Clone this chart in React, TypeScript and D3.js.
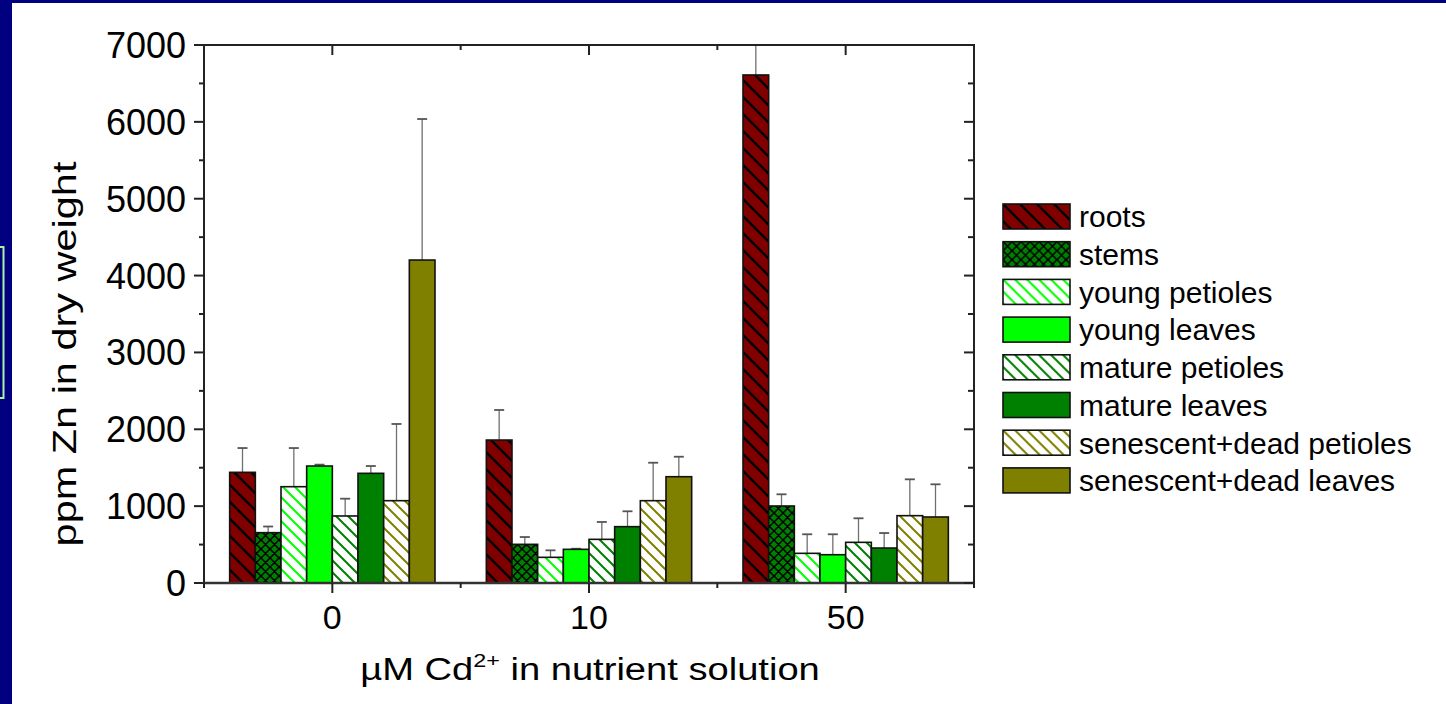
import React, { useEffect, useRef } from "react";
import * as d3 from "d3";

// Cd treatment groups (x categories)
const groups = ["0", "10", "50"];

// plant parts, in drawing order
const seriesNames = [
  "roots",
  "stems",
  "young petioles",
  "young leaves",
  "mature petioles",
  "mature leaves",
  "senescent+dead petioles",
  "senescent+dead leaves",
];

// mean ppm Zn per group (0, 10, 50 µM Cd)
const roots = [1440, 1860, 6610];
const stems = [655, 503, 1002];
const youngPetioles = [1253, 334, 386];
const youngLeaves = [1522, 438, 368];
const maturePetioles = [872, 568, 529];
const matureLeaves = [1427, 733, 455];
const senPetioles = [1071, 1071, 876];
const senLeaves = [4202, 1383, 859];

// upper error (SD) per group
const rootsErr = [316, 391, 800];
const stemsErr = [80, 95, 152];
const youngPetiolesErr = [503, 91, 248];
const youngLeavesErr = [18, 8, 266];
const maturePetiolesErr = [225, 226, 313];
const matureLeavesErr = [95, 200, 195];
const senPetiolesErr = [998, 494, 473];
const senLeavesErr = [1835, 260, 425];

const yTicks = [0, 1000, 2000, 3000, 4000, 5000, 6000, 7000];

const seriesValues = [roots, stems, youngPetioles, youngLeaves, maturePetioles, matureLeaves, senPetioles, senLeaves];
const seriesErrors = [rootsErr, stemsErr, youngPetiolesErr, youngLeavesErr, maturePetiolesErr, matureLeavesErr, senPetiolesErr, senLeavesErr];

// fill style for each series: base colour, optional hatch
const seriesStyles = [
  { fill: "#800000", hatch: "back", line: "#000000", size: 17, lw: 2.4 },
  { fill: "#008000", hatch: "cross", line: "#000000", size: 9, lw: 1.5 },
  { fill: "#ffffff", hatch: "back", line: "#00ff00", size: 12, lw: 2 },
  { fill: "#00ff00", hatch: null, line: null, size: 0, lw: 0 },
  { fill: "#ffffff", hatch: "back", line: "#008000", size: 12, lw: 2 },
  { fill: "#008000", hatch: null, line: null, size: 0, lw: 0 },
  { fill: "#ffffff", hatch: "back", line: "#808000", size: 12, lw: 2 },
  { fill: "#808000", hatch: null, line: null, size: 0, lw: 0 },
];

const FONT = "Arial, 'Liberation Sans', sans-serif";

const App = () => {
  const ref = useRef<SVGSVGElement | null>(null);

  useEffect(() => {
    if (ref.current) drawChart(ref.current);
  }, []);

  return (
    <svg
      ref={ref}
      width={1446}
      height={704}
      style={{ position: "absolute", left: 0, top: 0 }}
    />
  );
};

function drawChart(node: SVGSVGElement) {
  const svg = d3.select(node);
  svg.selectAll("*").remove();

  const left = 204;
  const right = 974;
  const top = 45;
  const bottom = 583;

  // slide background
  svg.append("rect").attr("width", 1446).attr("height", 704).attr("fill", "#ffffff");
  svg.append("rect").attr("width", 12).attr("height", 704).attr("fill", "#000080");
  svg.append("rect").attr("width", 1446).attr("height", 3).attr("fill", "#000080");
  svg
    .append("rect")
    .attr("x", -20)
    .attr("y", 247)
    .attr("width", 23.5)
    .attr("height", 151)
    .attr("fill", "none")
    .attr("stroke", "#a8f5a0")
    .attr("stroke-width", 2);

  const defs = svg.append("defs");

  // hatch patterns
  seriesStyles.forEach((st, i) => {
    if (!st.hatch) return;
    const s = st.size;
    const p = defs
      .append("pattern")
      .attr("id", `pat-${i}`)
      .attr("patternUnits", "userSpaceOnUse")
      .attr("width", s)
      .attr("height", s);
    p.append("rect").attr("width", s).attr("height", s).attr("fill", st.fill);
    const back = `M-2,-2L${s + 2},${s + 2}M-2,${s - 2}L2,${s + 2}M${s - 2},-2L${s + 2},2`;
    const fwd = `M-2,${s + 2}L${s + 2},-2M-2,2L2,-2M${s - 2},${s + 2}L${s + 2},${s - 2}`;
    p.append("path")
      .attr("d", st.hatch === "cross" ? back + fwd : back)
      .attr("stroke", st.line)
      .attr("stroke-width", st.lw)
      .attr("fill", "none");
  });

  defs
    .append("clipPath")
    .attr("id", "plot-clip")
    .append("rect")
    .attr("x", left)
    .attr("y", top)
    .attr("width", right - left)
    .attr("height", bottom - top);

  const fillFor = (i: number) => (seriesStyles[i].hatch ? `url(#pat-${i})` : seriesStyles[i].fill);

  // scales
  const x0 = d3.scaleBand().domain(groups).range([left, right]).padding(0);
  const bw = x0.bandwidth();
  const x1 = d3
    .scaleBand()
    .domain(seriesNames)
    .range([bw * 0.1, bw * 0.9])
    .padding(0);
  const y = d3.scaleLinear().domain([0, 7000]).range([bottom, top]);

  const rows = groups.flatMap((g, gi) =>
    seriesNames.map((name, si) => ({
      group: g,
      name,
      si,
      value: seriesValues[si][gi],
      err: seriesErrors[si][gi],
    }))
  );

  const plot = svg.append("g").attr("clip-path", "url(#plot-clip)");

  // error bars (upper only)
  const eb = plot
    .selectAll("g.err")
    .data(rows)
    .enter()
    .append("g")
    .attr("class", "err");
  eb.append("line")
    .attr("x1", (d) => x0(d.group)! + x1(d.name)! + x1.bandwidth() / 2)
    .attr("x2", (d) => x0(d.group)! + x1(d.name)! + x1.bandwidth() / 2)
    .attr("y1", (d) => y(d.value))
    .attr("y2", (d) => y(d.value + d.err))
    .attr("stroke", "#707070")
    .attr("stroke-width", 1.3);
  eb.append("line")
    .attr("x1", (d) => x0(d.group)! + x1(d.name)! + x1.bandwidth() / 2 - 5)
    .attr("x2", (d) => x0(d.group)! + x1(d.name)! + x1.bandwidth() / 2 + 5)
    .attr("y1", (d) => y(d.value + d.err))
    .attr("y2", (d) => y(d.value + d.err))
    .attr("stroke", "#555555")
    .attr("stroke-width", 1.8);

  // bars
  plot
    .selectAll("rect.bar")
    .data(rows)
    .enter()
    .append("rect")
    .attr("class", "bar")
    .attr("x", (d) => x0(d.group)! + x1(d.name)!)
    .attr("y", (d) => y(d.value))
    .attr("width", x1.bandwidth())
    .attr("height", (d) => y(0) - y(d.value))
    .attr("fill", (d) => fillFor(d.si))
    .attr("stroke", "#111")
    .attr("stroke-width", 1.6);

  // frame
  svg
    .append("rect")
    .attr("x", left)
    .attr("y", top)
    .attr("width", right - left)
    .attr("height", bottom - top)
    .attr("fill", "none")
    .attr("stroke", "#222")
    .attr("stroke-width", 2);
  svg
    .append("line")
    .attr("x1", left)
    .attr("x2", right)
    .attr("y1", bottom)
    .attr("y2", bottom)
    .attr("stroke", "#333")
    .attr("stroke-width", 2.5);

  // y ticks, major + minor, left outward / right inward
  const minor = d3.range(500, 7000, 1000);
  const tickG = svg.append("g").attr("stroke", "#222").attr("stroke-width", 2);
  yTicks.forEach((t) => {
    tickG.append("line").attr("x1", left - 10).attr("x2", left).attr("y1", y(t)).attr("y2", y(t));
    tickG.append("line").attr("x1", right - 10).attr("x2", right).attr("y1", y(t)).attr("y2", y(t));
  });
  minor.forEach((t) => {
    tickG.append("line").attr("x1", left - 5).attr("x2", left).attr("y1", y(t)).attr("y2", y(t));
    tickG.append("line").attr("x1", right - 6).attr("x2", right).attr("y1", y(t)).attr("y2", y(t));
  });

  // x ticks: centres major, boundaries minor
  groups.forEach((g) => {
    const cx = x0(g)! + bw / 2;
    tickG.append("line").attr("x1", cx).attr("x2", cx).attr("y1", bottom).attr("y2", bottom + 10);
    tickG.append("line").attr("x1", cx).attr("x2", cx).attr("y1", top).attr("y2", top + 10);
  });
  groups.forEach((g) => {
    const bx = x0(g)!;
    tickG.append("line").attr("x1", bx).attr("x2", bx).attr("y1", bottom).attr("y2", bottom + 5);
    tickG.append("line").attr("x1", bx).attr("x2", bx).attr("y1", top).attr("y2", top + 5);
  });
  tickG.append("line").attr("x1", right).attr("x2", right).attr("y1", bottom).attr("y2", bottom + 5);

  // tick labels
  svg
    .append("g")
    .selectAll("text")
    .data(yTicks)
    .enter()
    .append("text")
    .attr("x", 186)
    .attr("y", (d) => y(d))
    .attr("dy", "0.36em")
    .attr("text-anchor", "end")
    .style("font-family", FONT)
    .style("font-size", "36px")
    .attr("fill", "#000")
    .text((d) => d);

  svg
    .append("g")
    .selectAll("text")
    .data(groups)
    .enter()
    .append("text")
    .attr("x", (d) => x0(d)! + bw / 2)
    .attr("y", 629)
    .attr("text-anchor", "middle")
    .style("font-family", FONT)
    .style("font-size", "34px")
    .attr("fill", "#000")
    .text((d) => d);

  // axis titles
  const xt = svg
    .append("g")
    .attr("transform", "translate(590,680) scale(1.23,1)")
    .append("text")
    .attr("text-anchor", "middle")
    .style("font-family", FONT)
    .style("font-size", "31px")
    .attr("fill", "#000");
  xt.append("tspan").text("µM Cd");
  xt.append("tspan").attr("dy", -13).style("font-size", "19px").text("2+");
  xt.append("tspan").attr("dy", 13).text(" in nutrient solution");

  svg
    .append("g")
    .attr("transform", "translate(76,354) rotate(-90) scale(1.22,1)")
    .append("text")
    .attr("text-anchor", "middle")
    .style("font-family", FONT)
    .style("font-size", "34px")
    .attr("fill", "#000")
    .text("ppm Zn in dry weight");

  // legend
  const legend = svg
    .append("g")
    .selectAll("g")
    .data(seriesNames)
    .enter()
    .append("g")
    .attr("transform", (d, i) => `translate(1003,${204 + i * 37.7})`);
  legend
    .append("rect")
    .attr("width", 67)
    .attr("height", 25)
    .attr("fill", (d, i) => fillFor(i))
    .attr("stroke", "#111")
    .attr("stroke-width", 1.6);
  legend
    .append("text")
    .attr("x", 76)
    .attr("y", 12.5)
    .attr("dy", "0.36em")
    .style("font-family", FONT)
    .style("font-size", "30px")
    .attr("fill", "#000")
    .text((d) => d);
}

export default App;
